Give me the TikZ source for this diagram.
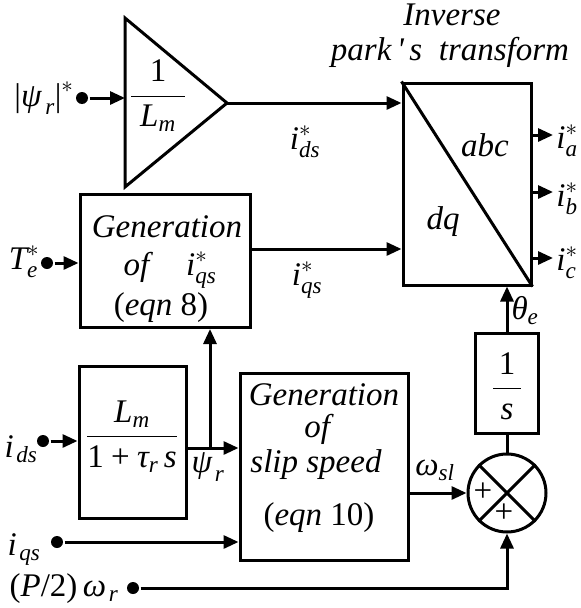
\RequirePackage{fix-cm}
\documentclass[tikz,border=0pt]{standalone}
\usepackage{amsmath}
\usepackage{fontspec}
\setmainfont{Liberation Serif}
\usetikzlibrary{arrows.meta}
\newcommand\mi[1]{\textit{#1}}
\newcommand\up[1]{\textup{#1}}
\begin{document}
\begin{tikzpicture}[x=1pt,y=-1pt, line width=3pt,
  >={Triangle[length=15pt,width=13pt]},
  box/.style={draw, rectangle, inner sep=0pt},
  dot/.style={circle, fill, inner sep=0pt, minimum size=12pt},
  txt/.style={anchor=base},
  every node/.append style={inner sep=0pt},
  font=\fontsize{33}{36}\selectfont]
\useasboundingbox (0,0) rectangle (581,608);

% gain triangle
\coordinate (tA) at (125,18);
\coordinate (tB) at (125,187);
\coordinate (tip) at (227,103);
\draw[line join=miter] (tA) -- (tip) -- (tB) -- cycle;
\node (gain) at (158,96) {$\dfrac{\,\up{1}\,}{\;\mi{L}_{\mi{m}}\;}$};

% inverse park box
\node[box, minimum width=128pt, minimum height=202pt] (park) at (467,184) {};
\draw (park.north west) -- (park.south east);
\node (abc) at (485,145) {\mi{abc}};
\node (dq) at (443,222) {\mi{dq}};
\node (t1) at (452,15) {\mi{Inverse}};
\node (t2) at (450,52) {\mi{park\,\textquotesingle\,s\ \ transform}};

% psi input
\node[dot] (psi) at (82,98) {};
\node (psil) at (44,98) {$\up{|}\mi{ψ}_{\mkern3mu\mi{r}}\up{|}^{*}$};
\draw[->] (psi) -- (psi -| tA);
\draw[->] (tip) -- (park.west |- tip);
\node (idsl) at (305,142) {$\mi{i}^{*}_{\mi{ds}}$};

% generation of iqs
\node[box, minimum width=170pt, minimum height=133pt] (gen) at (165,261) {};
\node[txt] (g1) at (167,237) {\mi{Generation}};
\node[txt] (g2) at (170,275) {\mi{of}\quad $\mi{i}^{*}_{\mi{qs}}$};
\node[txt] (g3) at (161,315) {(\mi{eqn} 8)};
\node[dot] (te) at (47,263) {};
\node (tel) at (24,262) {$\mi{T}^{*}_{\mi{e}}$};
\draw[->] (te) -- (te -| gen.west);
\coordinate (qy) at (0,249);
\draw[->] (gen.east |- qy) -- (park.west |- qy);
\node (iqsl) at (307,280) {$\mi{i}^{*}_{\mi{qs}}$};

% Lm block
\node[box, minimum width=107pt, minimum height=152pt] (lm) at (132.5,442) {};
\node (lmf) at (132,437) {$\dfrac{\mi{L}_{\mi{m}}}{\up{1}\mathbin{\up{+}}\mi{τ}_{\mi{r}}\,\mi{s}}$};
\node[dot] (ids) at (43,441) {};
\node (idsi) at (21,449) {$\mi{i}_{\mkern2mu\mi{ds}}$};
\draw[->] (ids) -- (ids -| lm.west);

% slip speed block
\node[box, minimum width=168pt, minimum height=187pt] (slip) at (324,466.5) {};
\node[txt] (s1) at (324,405) {\mi{Generation}};
\node[txt] (s2) at (319,437) {\mi{of}};
\node[txt] (s3) at (316,472) {\mi{slip speed}};
\node[txt] (s4) at (319,525) {(\mi{eqn} 10)};
\coordinate (py) at (0,448);
\draw[->] (lm.east |- py) -- (slip.west |- py);
\coordinate (jn) at (210,448);
\draw[->] (jn) -- (jn |- gen.south);
\node (psir) at (208,467) {$\mi{ψ}_{\mkern2mu\mi{r}}$};

\node[dot] (iqs) at (57,542) {};
\node (iqsi) at (24,550) {$\mi{i}_{\mkern2mu\mi{qs}}$};
\draw[->] (iqs) -- (iqs -| slip.west);

% summing junction
\node[draw, circle, minimum size=78pt] (sum) at (507,493) {};
\draw (sum.north west) -- (sum.south east);
\draw (sum.north east) -- (sum.south west);
\node (p1) at (483,492) {+};
\node (p2) at (504,513) {+};
\draw[->] (slip.east |- sum) -- (sum.west);
\node (wsl) at (435,470) {$\mi{ω}_{\mi{sl}}$};

\node[dot] (pw) at (133,588) {};
\node (pwl) at (64,589) {$\up{(}\mi{P}\up{/2)}\,\mi{ω}_{\mkern2mu\mi{r}}$};
\draw[->] (pw) -| (sum.south);

% integrator
\node[box, minimum width=63pt, minimum height=100pt] (ints) at (507,383) {};
\node (intf) at (507,386) {$\dfrac{\,\up{1}\,}{\,\mi{s}\,}$};
\draw (sum.north) -- (ints.south);
\draw[->] (ints.north) -- (ints.north |- park.south);
\node (th) at (525,311) {$\mi{θ}_{\mi{e}}$};

% outputs
\node (ia) at (567,141) {$\mi{i}^{*}_{\mi{a}}$};
\node (ib) at (567,199) {$\mi{i}^{*}_{\mi{b}}$};
\node (ic) at (567,263) {$\mi{i}^{*}_{\mi{c}}$};
\coordinate (ya) at (0,135);
\coordinate (yb) at (0,192);
\coordinate (yc) at (0,258);
\draw[->] (park.east |- ya) -- (553,135);
\draw[->] (park.east |- yb) -- (553,192);
\draw[->] (park.east |- yc) -- (553,258);
\end{tikzpicture}
\end{document}
